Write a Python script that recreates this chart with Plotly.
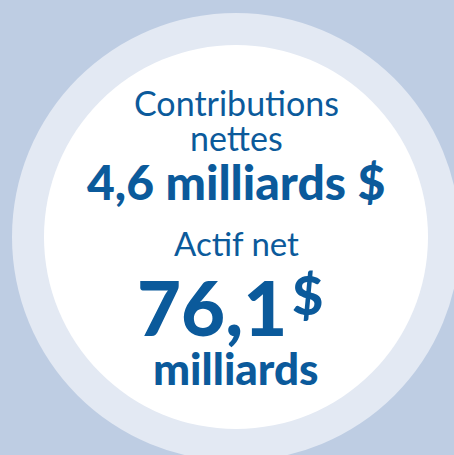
import plotly.graph_objects as go

# Data
labels = ["Contributions nettes", "Actif net"]
values = [4.6, 76.1]
units = ["milliards $", "milliards"]

BG = "#BECDE3"
RING = "#E3E9F3"
TXT = "#0B5A9B"
W, H = 454, 455
cx, cy = 236, 237

fig = go.Figure()
fig.add_shape(type="circle", xref="x", yref="y", x0=cx-224, x1=cx+224, y0=cy-224, y1=cy+224,
              fillcolor=RING, line=dict(width=0), layer="below")
fig.add_shape(type="circle", xref="x", yref="y", x0=cx-192, x1=cx+192, y0=cy-192, y1=cy+192,
              fillcolor="white", line=dict(width=0), layer="below")

def fmt(v):
    return f"{v:.1f}".replace(".", ",")

def ann(text, x, y, size, weight, xanchor="center"):
    fig.add_annotation(text=text, x=x, y=y, xref="x", yref="y", showarrow=False,
                       xanchor=xanchor, yanchor="middle",
                       font=dict(family="Lato", size=size, color=TXT, weight=weight))

ann("Contributions", cx, 102, 34, 400)
ann("nettes", cx, 137, 34, 400)
ann(f"{fmt(values[0])} {units[0]}", cx, 181, 48, 900)
ann(labels[1], cx, 243, 33, 400)
ann(fmt(values[1]), 289, 306, 76, 900, xanchor="right")
ann("$", 290, 294, 54, 900, xanchor="left")
ann(units[1], cx, 368, 44, 900)

fig.update_layout(width=W, height=H, margin=dict(l=0, r=0, t=0, b=0),
                  paper_bgcolor=BG, plot_bgcolor=BG, showlegend=False)
fig.update_xaxes(range=[0, W], visible=False, fixedrange=True)
fig.update_yaxes(range=[H, 0], visible=False, fixedrange=True)
fig.write_html("out.html", config={"displayModeBar": False},
               post_script="document.body.style.margin='0px';document.body.style.overflow='hidden';")
